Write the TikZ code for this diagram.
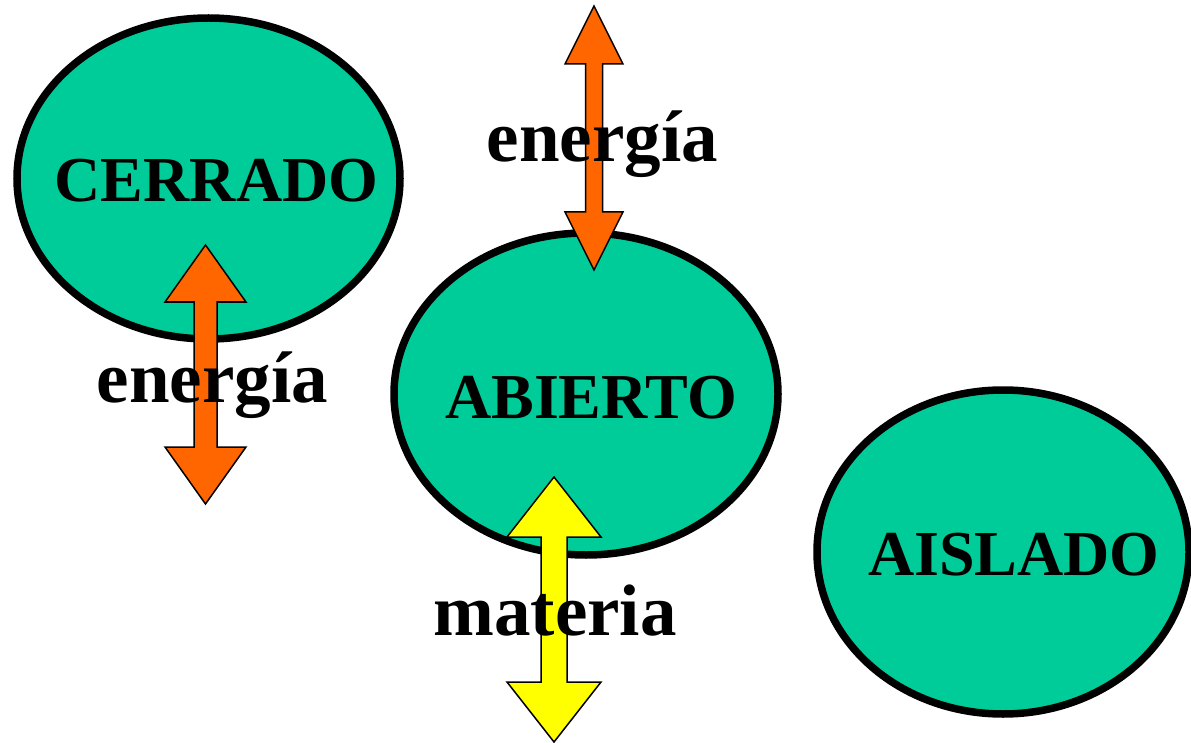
\documentclass[tikz,border=0pt]{standalone}
\usepackage{fontspec}
\setmainfont{Liberation Serif}
\usetikzlibrary{shapes.geometric}
\definecolor{sysgreen}{HTML}{00CC99}
\definecolor{arrorange}{HTML}{FF6600}
\definecolor{arryellow}{HTML}{FFFF00}
\newcommand{\dblblockarrow}[7]{%
  % #1 x, #2 top, #3 bottom, #4 head half width, #5 head length, #6 shaft half width, #7 fill
  \draw[arrowline, fill=#7]
    (#1,#2) -- (#1+#4,#2+#5) -- (#1+#6,#2+#5) -- (#1+#6,#3-#5) -- (#1+#4,#3-#5)
    -- (#1,#3) -- (#1-#4,#3-#5) -- (#1-#6,#3-#5) -- (#1-#6,#2+#5) -- (#1-#4,#2+#5) -- cycle;}
\begin{document}
\begin{tikzpicture}[x=1pt,y=-1pt,
  sysbox/.style={ellipse, draw=black, line width=7.5pt, fill=sysgreen, inner sep=0pt},
  systext/.style={anchor=base, inner sep=0pt, font=\fontsize{64}{64}\selectfont\bfseries},
  flowtext/.style={anchor=base, inner sep=0pt, font=\fontsize{73}{73}\selectfont\bfseries},
  arrowline/.style={draw=black, line width=1.5pt, line join=miter}]
\useasboundingbox (0,0) rectangle (1191,743);
% systems
\node[sysbox, minimum width=383pt, minimum height=321pt] (cerrado) at (208.5,178.5) {};
\node[sysbox, minimum width=384pt, minimum height=322pt] (abierto) at (586,394) {};
\node[sysbox, minimum width=372pt, minimum height=324pt] (aislado) at (1003,552) {};
% exchange arrows
\dblblockarrow{205.5}{245}{504}{40.5}{57}{11.5}{arrorange}
\dblblockarrow{594}{6}{270}{29}{58}{8.5}{arrorange}
\dblblockarrow{554}{477}{742}{47}{60}{13}{arryellow}
% texts
\node[systext] (tcerrado) at (216.5,202) {CERRADO};
\node[systext] (tabierto) at (591,418) {ABIERTO};
\node[systext] (taislado) at (1014,575) {AISLADO};
\node[flowtext] (energia1) at (212.5,402) {energía};
\node[flowtext] (energia2) at (602.5,162) {energía};
\node[flowtext] (materia) at (555,635) {materia};
\end{tikzpicture}
\end{document}
